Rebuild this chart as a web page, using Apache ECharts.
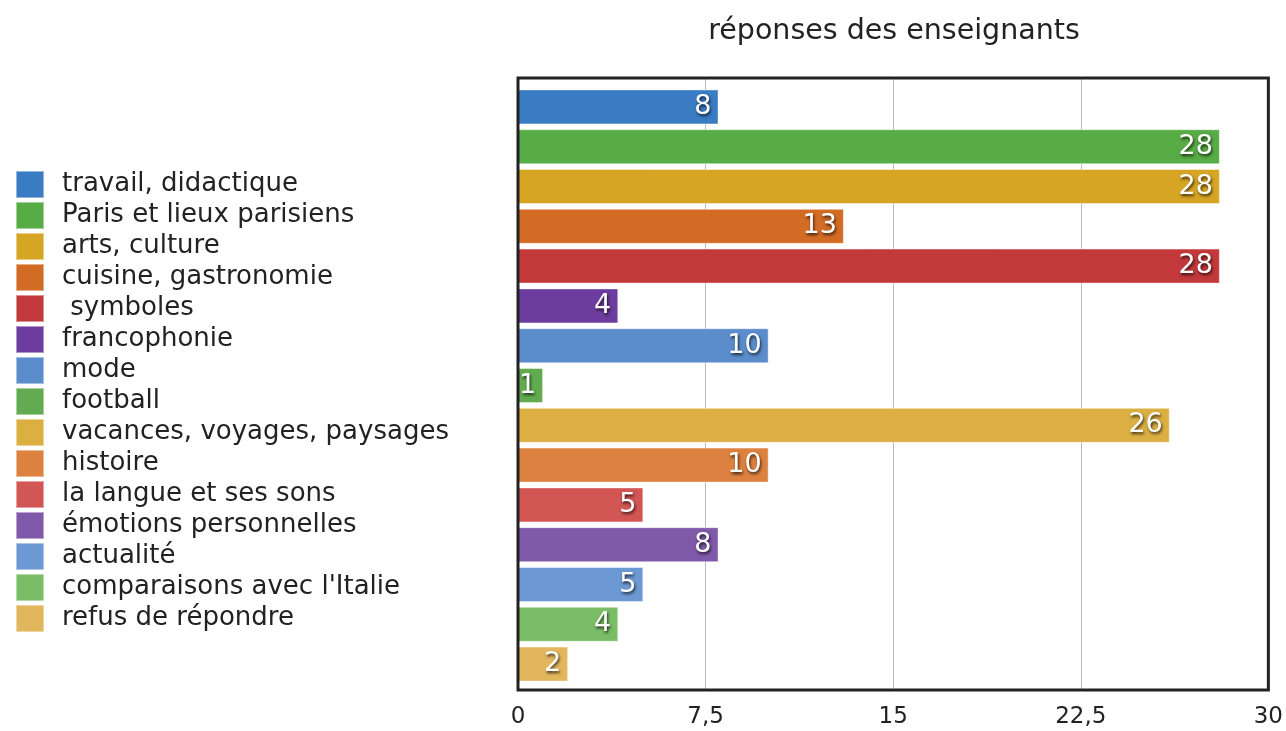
<!DOCTYPE html>
<html>
<head>
<meta charset="utf-8">
<script src="https://cdn.jsdelivr.net/npm/echarts@6/dist/echarts.min.js"></script>
<style>
html,body{margin:0;padding:0;background:#fff;}
#chart{width:1286px;height:731px;}
</style>
</head>
<body>
<div id="chart"></div>
<script>
const categories = [
  "travail, didactique",
  "Paris et lieux parisiens",
  "arts, culture",
  "cuisine, gastronomie",
  " symboles",
  "francophonie",
  "mode",
  "football",
  "vacances, voyages, paysages",
  "histoire",
  "la langue et ses sons",
  "émotions personnelles",
  "actualité",
  "comparaisons avec l'Italie",
  "refus de répondre"
];
const values = [8, 28, 28, 13, 28, 4, 10, 1, 26, 10, 5, 8, 5, 4, 2];
const colors = [
  "#3a7cc4", "#58ac45", "#d7a524", "#d26c25", "#c3393b",
  "#6c3d9e", "#5b8dcc", "#62ab51", "#dcaf43", "#dc813f",
  "#d25653", "#8059aa", "#6c98d3", "#7bbd66", "#e2b65c"
];
const xTicks = { min: 0, max: 30, interval: 7.5 };
const titleText = "réponses des enseignants";

const FONT = "'DejaVu Sans', 'Liberation Sans', Arial, sans-serif";

const series = categories.map((name, i) => ({
  name: name,
  type: 'bar',
  stack: 'all',
  xAxisIndex: 0,
  yAxisIndex: 0,
  barCategoryGap: '12%',
  itemStyle: { color: colors[i], borderColor: 'rgba(255,255,255,0.45)', borderWidth: 1 },
  label: {
    show: true,
    position: 'insideRight',
    distance: 7,
    color: '#fff',
    fontFamily: FONT,
    fontSize: 27,
    textShadowColor: 'rgba(0,0,0,0.75)',
    textShadowBlur: 3,
    textShadowOffsetX: 1,
    textShadowOffsetY: 2
  },
  data: categories.map((c, j) => (j === i ? values[i] : '-'))
}));

const chart = echarts.init(document.getElementById('chart'));
chart.setOption({
  animation: false,
  textStyle: { fontFamily: FONT },
  title: {
    text: titleText,
    left: 889,
    textAlign: 'center',
    top: 12,
    textStyle: { fontFamily: FONT, fontSize: 28.5, fontWeight: 'normal', color: '#222' }
  },
  legend: {
    orient: 'vertical',
    left: 15,
    top: 170,
    padding: 0,
    itemWidth: 28,
    itemHeight: 27,
    itemGap: 2,
    icon: 'rect',
    data: categories,
    textStyle: { fontFamily: FONT, fontSize: 26, color: '#222', padding: [0, 0, 0, 13] }
  },
  grid: [
    { left: 518, right: 16, top: 87, bottom: 47 },
    { left: 518, right: 16, top: 78, bottom: 41, show: true, borderColor: '#222', borderWidth: 3, backgroundColor: 'transparent', z: 5 }
  ],
  xAxis: [
    { type: 'value', gridIndex: 0, min: xTicks.min, max: xTicks.max, interval: xTicks.interval, show: false },
    {
      type: 'value', gridIndex: 1, min: xTicks.min, max: xTicks.max, interval: xTicks.interval,
      axisLine: { show: false }, axisTick: { show: false },
      splitLine: { show: true, lineStyle: { color: '#bbb', width: 1 } },
      axisLabel: {
        margin: 16, fontFamily: FONT, fontSize: 23, color: '#222',
        formatter: v => String(v).replace('.', ',')
      }
    }
  ],
  yAxis: [
    { type: 'category', gridIndex: 0, data: categories, inverse: true, show: false },
    { type: 'value', gridIndex: 1, show: false, min: 0, max: 1 }
  ],
  series: series
});
</script>
</body>
</html>
